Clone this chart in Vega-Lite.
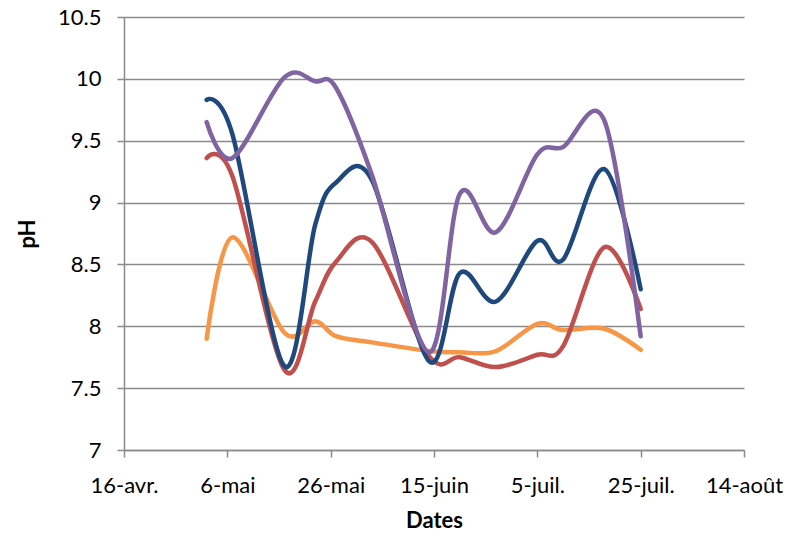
{
  "$schema": "https://vega.github.io/schema/vega-lite/v6.json",
  "width": 620,
  "height": 433,
  "autosize": {"type": "none"},
  "padding": {"left": 124, "top": 17, "right": 54, "bottom": 90},
  "background": "white",
  "config": {
    "view": {"stroke": null},
    "font": "Lato",
    "axis": {
      "labelFont": "Lato",
      "labelFontSize": 22,
      "labelColor": "#000000",
      "titleFont": "Lato",
      "titleFontSize": 22,
      "titleFontWeight": "bold",
      "titleColor": "#000000",
      "domainColor": "#8a8a8a",
      "domainWidth": 1.5,
      "tickColor": "#8a8a8a",
      "tickWidth": 1.5,
      "tickSize": 7,
      "gridColor": "#8a8a8a",
      "gridWidth": 1.5
    }
  },
  "data": {
    "values": [
      {"date": "2012-05-02", "series": "D", "pH": 7.90},
      {"date": "2012-05-07", "series": "D", "pH": 8.72},
      {"date": "2012-05-17", "series": "D", "pH": 7.95},
      {"date": "2012-05-23", "series": "D", "pH": 8.04},
      {"date": "2012-05-27", "series": "D", "pH": 7.92},
      {"date": "2012-06-03", "series": "D", "pH": 7.87},
      {"date": "2012-06-14", "series": "D", "pH": 7.80},
      {"date": "2012-06-20", "series": "D", "pH": 7.79},
      {"date": "2012-06-27", "series": "D", "pH": 7.80},
      {"date": "2012-07-05", "series": "D", "pH": 8.02},
      {"date": "2012-07-10", "series": "D", "pH": 7.97},
      {"date": "2012-07-18", "series": "D", "pH": 7.98},
      {"date": "2012-07-25", "series": "D", "pH": 7.81},

      {"date": "2012-05-02", "series": "B", "pH": 9.36},
      {"date": "2012-05-07", "series": "B", "pH": 9.21},
      {"date": "2012-05-17", "series": "B", "pH": 7.65},
      {"date": "2012-05-23", "series": "B", "pH": 8.20},
      {"date": "2012-05-27", "series": "B", "pH": 8.52},
      {"date": "2012-06-03", "series": "B", "pH": 8.68},
      {"date": "2012-06-14", "series": "B", "pH": 7.76},
      {"date": "2012-06-20", "series": "B", "pH": 7.75},
      {"date": "2012-06-27", "series": "B", "pH": 7.67},
      {"date": "2012-07-05", "series": "B", "pH": 7.77},
      {"date": "2012-07-10", "series": "B", "pH": 7.84},
      {"date": "2012-07-18", "series": "B", "pH": 8.64},
      {"date": "2012-07-25", "series": "B", "pH": 8.14},

      {"date": "2012-05-02", "series": "A", "pH": 9.83},
      {"date": "2012-05-07", "series": "A", "pH": 9.55},
      {"date": "2012-05-17", "series": "A", "pH": 7.68},
      {"date": "2012-05-23", "series": "A", "pH": 8.82},
      {"date": "2012-05-27", "series": "A", "pH": 9.16},
      {"date": "2012-06-03", "series": "A", "pH": 9.18},
      {"date": "2012-06-14", "series": "A", "pH": 7.72},
      {"date": "2012-06-20", "series": "A", "pH": 8.43},
      {"date": "2012-06-27", "series": "A", "pH": 8.20},
      {"date": "2012-07-05", "series": "A", "pH": 8.69},
      {"date": "2012-07-10", "series": "A", "pH": 8.54},
      {"date": "2012-07-18", "series": "A", "pH": 9.27},
      {"date": "2012-07-25", "series": "A", "pH": 8.30},

      {"date": "2012-05-02", "series": "C", "pH": 9.65},
      {"date": "2012-05-07", "series": "C", "pH": 9.36},
      {"date": "2012-05-17", "series": "C", "pH": 10.01},
      {"date": "2012-05-23", "series": "C", "pH": 9.98},
      {"date": "2012-05-27", "series": "C", "pH": 9.93},
      {"date": "2012-06-03", "series": "C", "pH": 9.22},
      {"date": "2012-06-14", "series": "C", "pH": 7.79},
      {"date": "2012-06-20", "series": "C", "pH": 9.07},
      {"date": "2012-06-27", "series": "C", "pH": 8.76},
      {"date": "2012-07-05", "series": "C", "pH": 9.39},
      {"date": "2012-07-10", "series": "C", "pH": 9.45},
      {"date": "2012-07-18", "series": "C", "pH": 9.66},
      {"date": "2012-07-25", "series": "C", "pH": 7.92}
    ]
  },
  "mark": {"type": "line", "interpolate": "cardinal", "tension": 0, "strokeWidth": 4.5, "strokeCap": "round", "strokeJoin": "round"},
  "encoding": {
    "x": {
      "field": "date",
      "type": "temporal",
      "scale": {
        "type": "utc",
        "domain": [
          {"year": 2012, "month": 4, "date": 16, "utc": true},
          {"year": 2012, "month": 8, "date": 14, "utc": true}
        ]
      },
      "axis": {
        "title": "Dates",
        "grid": false,
        "labelPadding": 18,
        "titlePadding": 14,
        "labelFlush": false,
        "labelOverlap": false,
        "values": [
          {"year": 2012, "month": 4, "date": 16, "utc": true},
          {"year": 2012, "month": 5, "date": 6, "utc": true},
          {"year": 2012, "month": 5, "date": 26, "utc": true},
          {"year": 2012, "month": 6, "date": 15, "utc": true},
          {"year": 2012, "month": 7, "date": 5, "utc": true},
          {"year": 2012, "month": 7, "date": 25, "utc": true},
          {"year": 2012, "month": 8, "date": 14, "utc": true}
        ],
        "labelExpr": "utcdate(datum.value) + '-' + ['janv.','févr.','mars','avr.','mai','juin','juil.','août','sept.','oct.','nov.','déc.'][utcmonth(datum.value)]"
      }
    },
    "y": {
      "field": "pH",
      "type": "quantitative",
      "scale": {"domain": [7, 10.5], "nice": false, "zero": false},
      "axis": {
        "title": "pH",
        "grid": true,
        "values": [7, 7.5, 8, 8.5, 9, 9.5, 10, 10.5],
        "format": ".1~f",
        "labelPadding": 16,
        "titlePadding": 18,
        "labelFlush": false
      }
    },
    "color": {
      "field": "series",
      "type": "nominal",
      "sort": ["D", "B", "A", "C"],
      "scale": {"domain": ["D", "B", "A", "C"], "range": ["#F79646", "#C0504D", "#1F497D", "#8064A2"]},
      "legend": null
    }
  }
}
